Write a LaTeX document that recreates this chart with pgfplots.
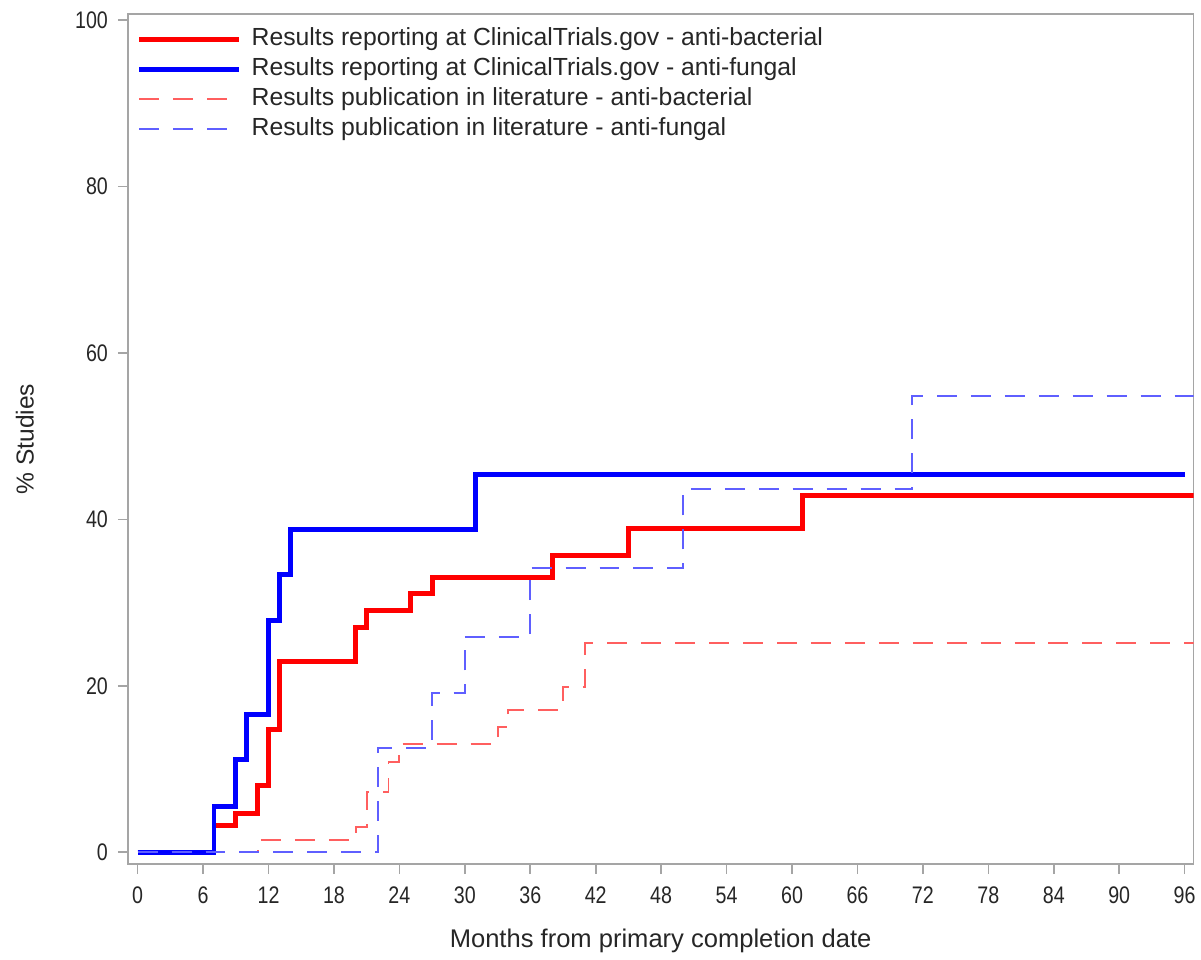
\documentclass[border=0pt]{standalone}
\usepackage{fontspec}
\setmainfont{Liberation Sans}
\usepackage{pgfplots}
\pgfplotsset{compat=1.18}
\definecolor{dred}{RGB}{255,95,95}
\definecolor{dblue}{RGB}{95,95,255}
\definecolor{axgray}{RGB}{165,165,165}
\begin{document}
\begin{tikzpicture}
\begin{axis}[
  scale only axis, width=534pt, height=426pt,
  xmin=-0.91, xmax=96.82, ymin=-1.44, ymax=100.72,
  xtick={0,6,...,96}, ytick={0,20,...,100},
  tick pos=left, tick align=outside, major tick length=5pt,
  axis line style={axgray, line width=0.8pt},
  tick style={axgray, line width=0.8pt},
  /pgf/number format/assume math mode=true,
  ticklabel style={text=black!85, font=\fontsize{12}{14}\selectfont, xscale=0.82},
  xticklabel style={yshift=-3pt},
  yticklabel style={xshift=-2.5pt},
  xlabel={Months from primary completion date},
  ylabel={\% Studies},
  xlabel style={at={(axis description cs:0.5,0)}, anchor=center, yshift=-38.5pt,
    text=black!85, font=\fontsize{12.8}{15}\selectfont},
  ylabel style={at={(axis description cs:0,0.5)}, anchor=center, yshift=51.5pt,
    text=black!85, font=\fontsize{12.3}{15}\selectfont},
  legend style={at={(axis description cs:0.0082,0.9847)}, anchor=north west, draw=none, fill=none,
    font=\fontsize{12.4}{14}\selectfont, inner sep=0pt, row sep=3pt, text=black!85,
    nodes={inner ysep=0pt, text height=9pt, text depth=3pt}},
  legend cell align=left,
  legend image code/.code={\draw[#1] (0pt,0pt) -- (50pt,0pt); \path (53pt,0pt);},
  const plot,
]
\addplot[red, line width=2.5pt] coordinates {
 (0,0) (7,3.2) (9,4.7) (11,8.0) (12,14.7) (13,22.9) (20,27.0) (21,29.0) (25,31.1)
 (27,33.0) (38,35.6) (45,38.9) (61,42.9) (96.82,42.9)};
\addlegendentry{Results reporting at ClinicalTrials.gov - anti-bacterial}
\addplot[blue, line width=2.5pt] coordinates {
 (0,0) (7,5.5) (9,11.1) (10,16.6) (12,27.9) (13,33.4) (14,38.8) (31,45.4) (96,45.4)};
\addlegendentry{Results reporting at ClinicalTrials.gov - anti-fungal}
\addplot[dred, line width=1pt, dash pattern=on 10pt off 7pt] coordinates {
 (0,0) (11,1.5) (20,3.0) (21,7.2) (23,10.9) (24,13.0) (33,15.1) (34,17.1) (39,19.9)
 (41,25.1) (96.82,25.1)};
\addlegendentry{Results publication in literature - anti-bacterial}
\addplot[dblue, line width=1pt, dash pattern=on 10pt off 7pt] coordinates {
 (0,0) (22,12.55) (27,19.1) (30,25.9) (36,34.2) (50,43.6) (71,54.8) (96.82,54.8)};
\addlegendentry{Results publication in literature - anti-fungal}
\end{axis}
\path ([xshift=-64pt,yshift=-46.5pt]current axis.south west) rectangle ([xshift=2.5pt,yshift=7pt]current axis.north east);
\end{tikzpicture}
\end{document}
